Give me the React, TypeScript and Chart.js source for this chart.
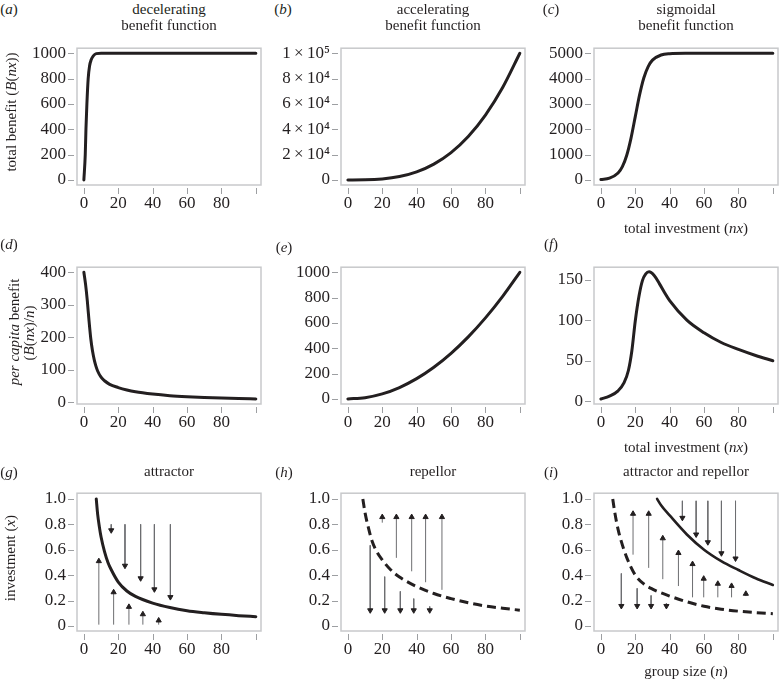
import React, { useEffect, useRef } from 'react';
import { Chart, registerables } from 'chart.js';

Chart.register(...registerables);

// ---------- data ----------
// x axis ticks shared by all panels
const xTickValues = [0, 20, 40, 60, 80, 100];
const xTickLabels = ['0', '20', '40', '60', '80', ''];

// (a) decelerating benefit: total benefit vs total investment
const decelX = [0, 0.8, 1.2, 1.75, 2.5, 3.3, 4.3, 5.5, 7.2, 10, 20, 40, 60, 80, 100];
const decelTotal = [0, 200, 400, 600, 800, 900, 950, 980, 997, 1000, 1000, 1000, 1000, 1000, 1000];
const aTicks = [0, 200, 400, 600, 800, 1000];
const aTickLabels = ['0', '200', '400', '600', '800', '1000'];

// (b) accelerating benefit
const accelX = [0, 10, 20, 30, 40, 50, 60, 70, 80, 90, 100];
const accelTotal = [0, 100, 800, 2700, 6400, 12500, 21600, 34300, 51200, 72900, 100000];
const bTicks = [0, 20000, 40000, 60000, 80000, 100000];
const bTickLabels = ['0', '2\u2009×\u200910⁴', '4\u2009×\u200910⁴', '6\u2009×\u200910⁴', '8\u2009×\u200910⁴', '1\u2009×\u200910⁵'];

// (c) sigmoidal benefit
const sigX = [0, 5, 10, 12.5, 15, 17.5, 20, 22.5, 25, 27.5, 30, 35, 40, 50, 60, 80, 100];
const sigTotal = [16, 68, 271, 524, 965, 1643, 2500, 3357, 4035, 4476, 4729, 4932, 4983, 4999, 5000, 5000, 5000];
const cTicks = [0, 1000, 2000, 3000, 4000, 5000];
const cTickLabels = ['0', '1000', '2000', '3000', '4000', '5000'];

// (d) per capita, decelerating
const decelPcX = [0, 1, 2, 3, 4, 5, 6, 7, 8, 10, 12, 15, 20, 25, 30, 40, 50, 60, 70, 80, 90, 100];
const decelPerCapita = [400, 362, 312, 250, 196, 158, 131, 111, 96, 77, 66, 55, 45, 37.5, 32, 25, 20, 16.7, 14.3, 12.5, 11.1, 10];
const dTicks = [0, 100, 200, 300, 400];
const dTickLabels = ['0', '100', '200', '300', '400'];

// (e) per capita, accelerating
const accelPerCapita = [0, 10, 40, 90, 160, 250, 360, 490, 640, 810, 1000];
const eTicks = [0, 200, 400, 600, 800, 1000];
const eTickLabels = ['0', '200', '400', '600', '800', '1000'];

// (f) per capita, sigmoidal
const sigPcX = [0, 5, 10, 13.5, 16, 18, 20, 22.2, 24.2, 26.1, 28, 31, 34, 37, 40, 50, 60, 70, 80, 90, 100];
const sigPerCapita = [3, 6.5, 13, 23, 38, 62, 99, 130, 149, 157, 159.5, 155, 145, 134, 124, 100, 84.5, 72.5, 64, 56.5, 50];
const fTicks = [0, 50, 100, 150];
const fTickLabels = ['0', '50', '100', '150'];

// bottom row: investment x vs group size n
const invTicks = [0, 0.2, 0.4, 0.6, 0.8, 1.0];
const invTickLabels = ['0', '0.2', '0.4', '0.6', '0.8', '1.0'];

// (g) attractor
const attractorN = [7.2, 8, 9, 10, 12, 14, 16, 20, 25, 30, 40, 50, 60, 70, 80, 90, 100];
const attractorX = [1.0, 0.88, 0.78, 0.7, 0.585, 0.5, 0.44, 0.345, 0.275, 0.232, 0.18, 0.145, 0.12, 0.104, 0.091, 0.081, 0.073];
const gUpN = [8.7, 17.3, 26.2, 34.3, 43.5];
const gUpFrom = [0.01, 0.01, 0.01, 0.01, 0.01];
const gUpTo = [0.51, 0.265, 0.15, 0.092, 0.043];
const gDownN = [15.9, 23.9, 33.0, 41.0, 50.3];
const gDownFrom = [0.8, 0.8, 0.8, 0.8, 0.8];
const gDownTo = [0.753, 0.474, 0.375, 0.288, 0.227];

// (h) repellor
const repellorN = [8.7, 10, 12, 14, 17, 20, 25, 30, 40, 50, 60, 70, 80, 90, 100];
const repellorX = [1.0, 0.89, 0.77, 0.67, 0.58, 0.52, 0.44, 0.385, 0.31, 0.255, 0.215, 0.182, 0.157, 0.139, 0.124];
const hDownN = [13.0, 21.4, 30.5, 38.3, 47.6];
const hDownFrom = [0.635, 0.388, 0.272, 0.215, 0.153];
const hDownTo = [0.123, 0.123, 0.123, 0.123, 0.123];
const hUpN = [20.0, 28.2, 37.1, 45.2, 54.7];
const hUpFrom = [0.813, 0.536, 0.43, 0.344, 0.284];
const hUpTo = [0.857, 0.857, 0.857, 0.857, 0.857];

// (i) attractor and repellor
const lowerN = [6.9, 8, 10, 12, 15, 20, 25, 30, 40, 50, 60, 70, 80, 90, 100];
const lowerX = [1.0, 0.9, 0.76, 0.66, 0.54, 0.4, 0.33, 0.29, 0.235, 0.19, 0.155, 0.132, 0.116, 0.105, 0.096];
const upperN = [32.7, 35, 40, 50, 60, 70, 80, 90, 100];
const upperX = [1.0, 0.95, 0.87, 0.72, 0.6, 0.51, 0.44, 0.375, 0.322];
const iDownLowN = [11.9, 21.1, 29.2, 38.1];
const iDownLowFrom = [0.413, 0.296, 0.24, 0.178];
const iDownLowTo = [0.157, 0.157, 0.157, 0.157];
const iUpN = [18.7, 27.8, 36.0, 45.1, 53.3, 59.8, 68.0, 76.0, 84.3];
const iUpFrom = [0.561, 0.457, 0.368, 0.314, 0.225, 0.225, 0.225, 0.225, 0.235];
const iUpTo = [0.883, 0.883, 0.69, 0.574, 0.487, 0.372, 0.332, 0.315, 0.253];
const iDownHighN = [47.4, 55.4, 62.2, 70.1, 78.3];
const iDownHighFrom = [0.985, 0.985, 0.985, 0.985, 0.985];
const iDownHighTo = [0.851, 0.72, 0.659, 0.572, 0.531];

// ---------- styles / layout ----------
const INK = '#231f20';
const STEM = '#6d6e71';
const BOX = '#c8c9cb';
const TICK = '#9d9fa2';
const SERIF = "'Liberation Serif', 'Times New Roman', serif";

const COL_L = [77, 341, 594];
const COL_R = [261, 525, 778];
const ROW_T = [39, 258, 484];
const ROW_B = [185, 404, 631];
const AX_W = 72;
const AX_H = 36;
const PAD_T = 12;
const PAD_R = 6;

type Curve = { xs: number[]; ys: number[]; dash?: number[]; width?: number };
type ArrowSet = { n: number[]; from: number[]; to: number[] };
type Panel = {
  col: number;
  row: number;
  yMin: number;
  yMax: number;
  yTicks: number[];
  yLabels: string[];
  curves: Curve[];
  arrows?: ArrowSet[];
};

const panels: Panel[] = [
  { col: 0, row: 0, yMin: -40, yMax: 1040, yTicks: aTicks, yLabels: aTickLabels, curves: [{ xs: decelX, ys: decelTotal }] },
  { col: 1, row: 0, yMin: -4000, yMax: 104000, yTicks: bTicks, yLabels: bTickLabels, curves: [{ xs: accelX, ys: accelTotal }] },
  { col: 2, row: 0, yMin: -200, yMax: 5200, yTicks: cTicks, yLabels: cTickLabels, curves: [{ xs: sigX, ys: sigTotal }] },
  { col: 0, row: 1, yMin: -5.6, yMax: 415.6, yTicks: dTicks, yLabels: dTickLabels, curves: [{ xs: decelPcX, ys: decelPerCapita }] },
  { col: 1, row: 1, yMin: -40, yMax: 1040, yTicks: eTicks, yLabels: eTickLabels, curves: [{ xs: accelX, ys: accelPerCapita }] },
  { col: 2, row: 1, yMin: -3.2, yMax: 165.2, yTicks: fTicks, yLabels: fTickLabels, curves: [{ xs: sigPcX, ys: sigPerCapita }] },
  {
    col: 0, row: 2, yMin: -0.04, yMax: 1.045, yTicks: invTicks, yLabels: invTickLabels,
    curves: [{ xs: attractorN, ys: attractorX }],
    arrows: [{ n: gUpN, from: gUpFrom, to: gUpTo }, { n: gDownN, from: gDownFrom, to: gDownTo }],
  },
  {
    col: 1, row: 2, yMin: -0.04, yMax: 1.045, yTicks: invTicks, yLabels: invTickLabels,
    curves: [{ xs: repellorN, ys: repellorX, dash: [9, 5] }],
    arrows: [{ n: hDownN, from: hDownFrom, to: hDownTo }, { n: hUpN, from: hUpFrom, to: hUpTo }],
  },
  {
    col: 2, row: 2, yMin: -0.04, yMax: 1.045, yTicks: invTicks, yLabels: invTickLabels,
    curves: [{ xs: lowerN, ys: lowerX, dash: [9, 5] }, { xs: upperN, ys: upperX, width: 2.6 }],
    arrows: [
      { n: iDownLowN, from: iDownLowFrom, to: iDownLowTo },
      { n: iUpN, from: iUpFrom, to: iUpTo },
      { n: iDownHighN, from: iDownHighFrom, to: iDownHighTo },
    ],
  },
];

const framePlugin = {
  id: 'frame',
  beforeDatasetsDraw(chart: any) {
    const { ctx, chartArea } = chart;
    const { left, top, right, bottom } = chartArea;
    ctx.save();
    ctx.strokeStyle = BOX;
    ctx.lineWidth = 1.5;
    ctx.strokeRect(left, top, right - left, bottom - top);
    ctx.strokeStyle = TICK;
    ctx.lineWidth = 1;
    const sx = chart.scales.x;
    const sy = chart.scales.y;
    sx.ticks.forEach((t: any) => {
      const px = Math.round(sx.getPixelForValue(t.value)) + 0.5;
      ctx.beginPath();
      ctx.moveTo(px, bottom + 3);
      ctx.lineTo(px, bottom + 9);
      ctx.stroke();
    });
    sy.ticks.forEach((t: any) => {
      const py = Math.round(sy.getPixelForValue(t.value)) + 0.5;
      ctx.beginPath();
      ctx.moveTo(left - 3, py);
      ctx.lineTo(left - 9, py);
      ctx.stroke();
    });
    ctx.restore();
  },
};

function PanelChart({ p }: { p: Panel }) {
  const ref = useRef<HTMLCanvasElement>(null);
  const L = COL_L[p.col];
  const R = COL_R[p.col];
  const T = ROW_T[p.row];
  const B = ROW_B[p.row];
  const width = R - L + AX_W + PAD_R;
  const height = B - T + PAD_T + AX_H;

  useEffect(() => {
    if (!ref.current) return;
    const datasets: any[] = p.curves.map((c) => ({
      data: c.xs.map((x, i) => ({ x, y: c.ys[i] })),
      borderColor: INK,
      borderWidth: c.width ?? 3,
      borderDash: c.dash ?? [],
      borderCapStyle: c.dash ? 'butt' : 'round',
      pointRadius: 0,
      cubicInterpolationMode: 'monotone',
      fill: false,
    }));
    (p.arrows || []).forEach((set) => {
      set.n.forEach((n, i) => {
        const up = set.to[i] > set.from[i];
        datasets.push({
          data: [
            { x: n, y: set.from[i] },
            { x: n, y: set.to[i] },
          ],
          borderColor: STEM,
          borderWidth: 1,
          tension: 0,
          pointRadius: [0, 3],
          pointStyle: 'triangle',
          pointRotation: up ? 0 : 180,
          pointBackgroundColor: INK,
          pointBorderColor: INK,
          pointBorderWidth: 1,
          fill: false,
        });
      });
    });

    const chart = new Chart(ref.current, {
      type: 'line',
      data: { datasets },
      options: {
        animation: false,
        responsive: false,
        events: [],
        layout: { padding: { left: 0, top: PAD_T, right: PAD_R, bottom: 0 } },
        plugins: { legend: { display: false }, tooltip: { enabled: false } },
        scales: {
          x: {
            type: 'linear',
            min: -4,
            max: 103,
            afterBuildTicks: (s: any) => {
              s.ticks = xTickValues.map((v) => ({ value: v }));
            },
            afterFit: (s: any) => {
              s.height = AX_H;
            },
            grid: { display: false, drawTicks: false },
            border: { display: false },
            ticks: {
              autoSkip: false,
              maxRotation: 0,
              padding: 8,
              color: INK,
              font: { family: SERIF, size: 17 },
              callback: (_v: any, i: number) => xTickLabels[i],
            },
          },
          y: {
            type: 'linear',
            min: p.yMin,
            max: p.yMax,
            afterBuildTicks: (s: any) => {
              s.ticks = p.yTicks.map((v) => ({ value: v }));
            },
            afterFit: (s: any) => {
              s.width = AX_W;
            },
            grid: { display: false, drawTicks: false },
            border: { display: false },
            ticks: {
              autoSkip: false,
              padding: 11,
              color: INK,
              font: { family: SERIF, size: 17 },
              callback: (_v: any, i: number) => p.yLabels[i],
            },
          },
        },
      } as any,
      plugins: [framePlugin],
    });
    return () => chart.destroy();
  }, []);

  return (
    <canvas
      ref={ref}
      width={width}
      height={height}
      style={{ position: 'absolute', left: L - AX_W, top: T - PAD_T, width, height }}
    />
  );
}

function Txt({ x, y, rot, children }: { x: number; y: number; rot?: boolean; children: React.ReactNode }) {
  return (
    <div
      style={{
        position: 'absolute',
        left: x,
        top: y,
        transform: `translate(-50%, -50%)${rot ? ' rotate(-90deg)' : ''}`,
        font: `15px ${SERIF}`,
        color: INK,
        whiteSpace: 'nowrap',
        lineHeight: 1,
      }}
    >
      {children}
    </div>
  );
}

export default function App() {
  return (
    <div
      style={{
        position: 'absolute',
        left: 0,
        top: 0,
        width: 780,
        height: 680,
        overflow: 'hidden',
        background: '#ffffff',
      }}
    >
      {panels.map((p, i) => (
        <PanelChart key={i} p={p} />
      ))}

      {/* panel letters */}
      <Txt x={9} y={9}>(<i>a</i>)</Txt>
      <Txt x={283} y={9}>(<i>b</i>)</Txt>
      <Txt x={551} y={9}>(<i>c</i>)</Txt>
      <Txt x={9} y={244}>(<i>d</i>)</Txt>
      <Txt x={284} y={247}>(<i>e</i>)</Txt>
      <Txt x={551} y={244}>(<i>f</i>)</Txt>
      <Txt x={9} y={472}>(<i>g</i>)</Txt>
      <Txt x={284} y={472}>(<i>h</i>)</Txt>
      <Txt x={551} y={472}>(<i>i</i>)</Txt>

      {/* column titles */}
      <Txt x={169} y={9}>decelerating</Txt>
      <Txt x={169} y={25}>benefit function</Txt>
      <Txt x={433} y={9}>accelerating</Txt>
      <Txt x={433} y={25}>benefit function</Txt>
      <Txt x={686} y={9}>sigmoidal</Txt>
      <Txt x={686} y={25}>benefit function</Txt>
      <Txt x={169} y={471}>attractor</Txt>
      <Txt x={433} y={471}>repellor</Txt>
      <Txt x={686} y={471}>attractor and repellor</Txt>

      {/* axis titles */}
      <Txt x={11} y={112} rot>
        total benefit (<i>B</i>(<i>nx</i>))
      </Txt>
      <Txt x={14} y={332} rot>
        <i>per capita</i> benefit
      </Txt>
      <Txt x={29} y={333} rot>
        (<i>B</i>(<i>nx</i>)/<i>n</i>)
      </Txt>
      <Txt x={10} y={558} rot>
        investment (<i>x</i>)
      </Txt>
      <Txt x={686} y={228}>
        total investment (<i>nx</i>)
      </Txt>
      <Txt x={686} y={447}>
        total investment (<i>nx</i>)
      </Txt>
      <Txt x={686} y={671}>
        group size (<i>n</i>)
      </Txt>
    </div>
  );
}
